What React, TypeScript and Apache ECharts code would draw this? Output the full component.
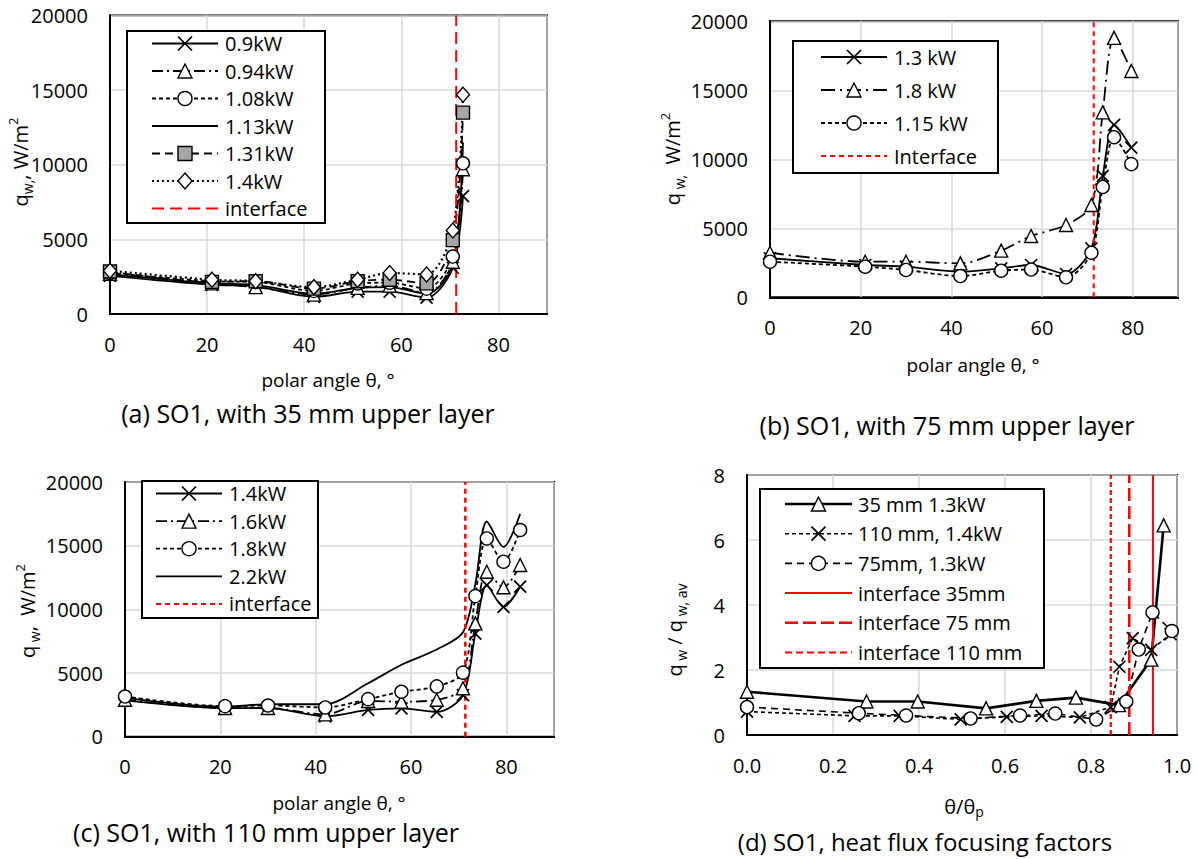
import { useEffect, useRef } from 'react';
import * as echarts from 'echarts';

const FONT = "'Open Sans', 'Noto Sans', 'DejaVu Sans', sans-serif";
const BLACK = '#000000';
const RED = '#ff0000';
const GRIDC = '#d9d9d9';

// ---------- Panel (a): SO1, 35 mm upper layer ----------
const thetaA = [0, 21, 30, 42, 51, 57.6, 65.2, 70.6, 72.7];
const qA_090 = [2550, 1950, 1850, 1150, 1500, 1500, 1100, 3100, 7900];
const qA_094 = [2700, 2050, 1800, 1300, 1750, 1900, 1400, 3500, 9700];
const qA_108 = [2750, 2200, 2150, 1550, 2050, 2100, 1700, 3850, 10100];
const qA_113 = [2650, 2050, 1950, 1350, 1750, 1800, 1350, 3300, 11500];
const qA_131 = [2850, 2150, 2200, 1700, 2200, 2300, 2050, 4950, 13500];
const qA_140 = [2900, 2300, 2200, 1800, 2300, 2750, 2650, 5600, 14700];
const interfaceA = 71.3;

// ---------- Panel (b): SO1, 75 mm upper layer ----------
const thetaB = [0, 21, 30, 42, 51, 57.6, 65.3, 70.9, 73.4, 75.9, 79.7];
const qB_130 = [2830, 2340, 2220, 1860, 2100, 2340, 1690, 3550, 8800, 12500, 10850];
const qB_180 = [3230, 2580, 2580, 2460, 3380, 4440, 5240, 6690, 13400, 18800, 16400];
const qB_115 = [2580, 2220, 1980, 1540, 1930, 2010, 1450, 3230, 8000, 11600, 9650];
const interfaceB = 71.4;

// ---------- Panel (c): SO1, 110 mm upper layer ----------
const thetaC = [0, 21, 30, 42, 51, 58, 65.4, 70.9, 73.5, 75.9, 79.4, 82.9];
const qC_140 = [2850, 2250, 2250, 1600, 2100, 2230, 1950, 3270, 8100, 11900, 10200, 11780];
const qC_160 = [2900, 2250, 2250, 1750, 2800, 2750, 2900, 3800, 8900, 12950, 11730, 13480];
const qC_180 = [3150, 2400, 2450, 2300, 2950, 3530, 3950, 5030, 11040, 15570, 13740, 16230];
const qC_220 = [3050, 2350, 2550, 2550, 4200, 5650, 6850, 8200, 12000, 16900, 14900, 17500];
const interfaceC = 71.4;

// ---------- Panel (d): heat flux focusing factors ----------
const ratioD_35 = [0, 0.278, 0.397, 0.556, 0.673, 0.765, 0.865, 0.94, 0.969];
const factorD_35 = [1.33, 1.03, 1.03, 0.82, 1.05, 1.15, 0.92, 2.32, 6.45];
const ratioD_110 = [0, 0.25, 0.355, 0.497, 0.604, 0.685, 0.774, 0.846, 0.866, 0.897, 0.94, 0.985];
const factorD_110 = [0.72, 0.59, 0.59, 0.48, 0.56, 0.59, 0.54, 0.86, 2.1, 2.98, 2.62, 3.1];
const ratioD_75 = [0, 0.26, 0.37, 0.52, 0.635, 0.717, 0.812, 0.882, 0.911, 0.943, 0.988];
const factorD_75 = [0.86, 0.67, 0.6, 0.51, 0.6, 0.66, 0.48, 1.03, 2.63, 3.77, 3.2];
const interfaceD_35 = 0.944;
const interfaceD_75 = 0.889;
const interfaceD_110 = 0.846;

// ---------- axes ----------
const qMax = 20000;
const qStep = 5000;
const thetaMax = 90;
const thetaStep = 20;
const fMax = 8;
const fStep = 2;
const ratioMax = 1;
const ratioStep = 0.2;

type Marker = 'cross' | 'triangle' | 'circle' | 'square' | 'diamond' | 'none';
interface LineSty {
  marker: Marker;
  dash: 'solid' | number[];
  width: number;
  color: string;
}

const stX: LineSty = { marker: 'cross', dash: 'solid', width: 1.8, color: BLACK };
const stTri: LineSty = { marker: 'triangle', dash: [11, 4, 2, 4], width: 1.8, color: BLACK };
const stCirc: LineSty = { marker: 'circle', dash: [4, 3], width: 1.8, color: BLACK };
const stPlain: LineSty = { marker: 'none', dash: 'solid', width: 1.8, color: BLACK };
const stSq: LineSty = { marker: 'square', dash: [8, 5], width: 1.8, color: BLACK };
const stDia: LineSty = { marker: 'diamond', dash: [2, 3], width: 2.2, color: BLACK };
const stIfA: LineSty = { marker: 'none', dash: [12, 6], width: 2, color: RED };
const stIfB: LineSty = { marker: 'none', dash: [5, 4], width: 2, color: RED };

const stD35: LineSty = { marker: 'triangle', dash: 'solid', width: 2.6, color: BLACK };
const stD110: LineSty = { marker: 'cross', dash: [4, 3], width: 1.6, color: BLACK };
const stD75: LineSty = { marker: 'circle', dash: [7, 5], width: 1.6, color: BLACK };
const stIf35: LineSty = { marker: 'none', dash: 'solid', width: 2, color: RED };
const stIf75: LineSty = { marker: 'none', dash: [13, 5], width: 2.5, color: RED };
const stIf110: LineSty = { marker: 'none', dash: [5, 3], width: 2.2, color: RED };

const SYMBOLS: Record<Marker, string> = {
  cross: 'path://M0,0L10,10M10,0L0,10',
  triangle: 'triangle',
  circle: 'circle',
  square: 'rect',
  diamond: 'diamond',
  none: 'none',
};

function mkSeries(id: string, gi: number, xs: number[], ys: number[], st: LineSty, smooth: number | boolean) {
  const fill = st.marker === 'square' ? '#a6a6a6' : st.marker === 'cross' ? 'rgba(0,0,0,0)' : '#ffffff';
  return {
    type: 'line',
    id,
    name: id,
    xAxisIndex: gi,
    yAxisIndex: gi,
    data: xs.map((x, i) => [x, ys[i]]),
    smooth,
    symbol: SYMBOLS[st.marker],
    symbolSize: st.marker === 'cross' ? 12 : st.marker === 'diamond' ? [13, 15] : 13,
    showSymbol: st.marker !== 'none',
    itemStyle: { color: fill, borderColor: BLACK, borderWidth: st.marker === 'cross' ? 1.7 : 1.4 },
    lineStyle: { color: st.color, width: st.width, type: st.dash },
    emphasis: { disabled: true },
    silent: true,
  };
}

function vSeries(id: string, gi: number, x: number, ymax: number, st: LineSty) {
  return mkSeries(id, gi, [x, x], [0, ymax], st, false);
}

// ---------- legend drawing ----------
function markerEls(mk: Marker, cx: number, cy: number, size: number): any[] {
  const h = size / 2;
  const st = { stroke: BLACK, lineWidth: 1.4, fill: '#ffffff' };
  switch (mk) {
    case 'cross':
      return [
        { type: 'line', z: 103, shape: { x1: cx - h, y1: cy - h, x2: cx + h, y2: cy + h }, style: { stroke: BLACK, lineWidth: 1.7 } },
        { type: 'line', z: 103, shape: { x1: cx - h, y1: cy + h, x2: cx + h, y2: cy - h }, style: { stroke: BLACK, lineWidth: 1.7 } },
      ];
    case 'triangle':
      return [{ type: 'polygon', z: 103, shape: { points: [[cx, cy - h], [cx + h, cy + h], [cx - h, cy + h]] }, style: st }];
    case 'circle':
      return [{ type: 'circle', z: 103, shape: { cx, cy, r: h }, style: st }];
    case 'square':
      return [{ type: 'rect', z: 103, shape: { x: cx - h, y: cy - h, width: size, height: size }, style: { ...st, fill: '#a6a6a6' } }];
    case 'diamond':
      return [{ type: 'polygon', z: 103, shape: { points: [[cx, cy - h - 1], [cx + h, cy], [cx, cy + h + 1], [cx - h, cy]] }, style: st }];
    default:
      return [];
  }
}

interface LegendSpec {
  box: [number, number, number, number];
  y0: number;
  step: number;
  lineX: [number, number];
  textX: number;
  items: { label: string; st: LineSty }[];
}

function legendEls(spec: LegendSpec): any[] {
  const els: any[] = [];
  const [bx, by, bw, bh] = spec.box;
  els.push({ type: 'rect', z: 100, shape: { x: bx, y: by, width: bw, height: bh }, style: { fill: '#ffffff', stroke: BLACK, lineWidth: 2 } });
  spec.items.forEach((it, i) => {
    const y = spec.y0 + i * spec.step;
    els.push({
      type: 'line',
      z: 101,
      shape: { x1: spec.lineX[0], y1: y, x2: spec.lineX[1], y2: y },
      style: { stroke: it.st.color, lineWidth: it.st.width, lineDash: it.st.dash === 'solid' ? null : it.st.dash },
    });
    els.push(...markerEls(it.st.marker, (spec.lineX[0] + spec.lineX[1]) / 2, y, 14));
    els.push({
      type: 'text',
      z: 104,
      x: spec.textX,
      y,
      style: { text: it.label, fontSize: 20, lineHeight: 22, fontFamily: FONT, fill: BLACK, align: 'left', verticalAlign: 'middle' },
    });
  });
  return els;
}

const legendA: LegendSpec = {
  box: [127, 31, 198, 192], y0: 43.5, step: 27.5, lineX: [152, 218], textX: 225,
  items: [
    { label: '0.9kW', st: stX }, { label: '0.94kW', st: stTri }, { label: '1.08kW', st: stCirc },
    { label: '1.13kW', st: stPlain }, { label: '1.31kW', st: stSq }, { label: '1.4kW', st: stDia },
    { label: 'interface', st: stIfA },
  ],
};
const legendB: LegendSpec = {
  box: [793, 41, 205, 132], y0: 57, step: 33, lineX: [821, 887], textX: 894,
  items: [
    { label: '1.3 kW', st: stX }, { label: '1.8 kW', st: { ...stTri, dash: [14, 5, 2, 5] } },
    { label: '1.15 kW', st: stCirc }, { label: 'Interface', st: stIfB },
  ],
};
const legendC: LegendSpec = {
  box: [142, 481, 176, 137], y0: 493.5, step: 27.6, lineX: [156, 222], textX: 229,
  items: [
    { label: '1.4kW', st: stX }, { label: '1.6kW', st: stTri }, { label: '1.8kW', st: stCirc },
    { label: '2.2kW', st: stPlain }, { label: 'interface', st: stIfB },
  ],
};
const legendD: LegendSpec = {
  box: [760, 489, 284, 179], y0: 504, step: 29.7, lineX: [785, 852], textX: 858,
  items: [
    { label: '35 mm 1.3kW', st: stD35 }, { label: '110 mm, 1.4kW', st: stD110 },
    { label: '75mm, 1.3kW', st: stD75 }, { label: 'interface 35mm', st: stIf35 },
    { label: 'interface 75 mm', st: stIf75 }, { label: 'interface 110 mm', st: { ...stIf110, dash: [7, 4] } },
  ],
};

// ---------- titles ----------
function rich(lh: number) {
  return {
    n: { fontSize: 20, fontFamily: FONT, fill: BLACK, color: BLACK, lineHeight: lh },
    s: { fontSize: 14, fontFamily: FONT, fill: BLACK, color: BLACK, verticalAlign: 'bottom', lineHeight: 15 },
    p: { fontSize: 13, fontFamily: FONT, fill: BLACK, color: BLACK, verticalAlign: 'top', lineHeight: 14 },
  };
}

function textEl(text: string, x: number, y: number, size: number, rotate = false, lh = 28): any {
  return {
    type: 'text',
    z: 110,
    x,
    y,
    rotation: rotate ? Math.PI / 2 : 0,
    style: {
      text, rich: rich(lh), fontSize: size, lineHeight: Math.round(size * 1.05), fontFamily: FONT,
      fill: BLACK, align: 'center', verticalAlign: 'middle',
    },
  };
}

const titleEls = [
  textEl('{n|q}{s|w,}{n|, W/m}{p|2}', 20, 162, 20, true),
  textEl('{n|q}{s| w,}{n|  W/m}{p|2}', 672, 159, 20, true),
  textEl('{n|q}{s| w}{n|,  W/m}{p|2}', 27, 611, 20, true),
  textEl('{n|q}{s| w}{n| / q}{s| w, av}', 674, 630, 20, true),
  textEl('polar angle θ, °', 328, 380, 19),
  textEl('polar angle θ, °', 973, 365, 19),
  textEl('polar angle θ, °', 339, 803, 19),
  textEl('{n|θ/θ}{s|p}', 964, 806, 19, false, 24),
  textEl('(a) SO1, with 35 mm upper layer', 308, 413, 25),
  textEl('(b) SO1, with 75 mm upper layer', 947, 425, 25),
  textEl('(c) SO1, with 110 mm upper layer', 266, 832, 25),
  textEl('(d) SO1, heat flux focusing factors', 925, 841, 24),
];

// ---------- option ----------
const gridBoxes = [
  { left: 110, top: 15.6, width: 437, height: 298.4 },
  { left: 770, top: 21.3, width: 408, height: 276 },
  { left: 125, top: 482, width: 429, height: 254.7 },
  { left: 747, top: 475, width: 430, height: 260 },
];

const axisCommon = {
  type: 'value',
  axisLine: { show: true, onZero: false, lineStyle: { color: BLACK, width: 2 } },
  axisTick: { show: false },
  splitLine: { show: true, lineStyle: { color: GRIDC, width: 1.5 } },
};

function thetaAxis(gi: number) {
  return {
    ...axisCommon, gridIndex: gi, min: 0, max: thetaMax, interval: thetaStep,
    axisLabel: { color: BLACK, fontSize: 20, fontFamily: FONT, margin: 20, formatter: (v: number) => (v > 80 ? '' : String(v)) },
  };
}
function qAxis(gi: number) {
  return {
    ...axisCommon, gridIndex: gi, min: 0, max: qMax, interval: qStep,
    axisLabel: { color: BLACK, fontSize: 20, fontFamily: FONT, margin: 22, formatter: (v: number) => String(v) },
  };
}

const option: any = {
  animation: false,
  backgroundColor: '#ffffff',
  grid: gridBoxes.map((g) => ({ ...g, show: true, borderColor: BLACK, borderWidth: 2, backgroundColor: 'transparent', containLabel: false, outerBoundsMode: 'none' })),
  xAxis: [
    thetaAxis(0), thetaAxis(1), thetaAxis(2),
    {
      ...axisCommon, gridIndex: 3, min: 0, max: ratioMax, interval: ratioStep,
      axisLabel: { color: BLACK, fontSize: 20, fontFamily: FONT, margin: 20, formatter: (v: number) => v.toFixed(1) },
    },
  ],
  yAxis: [
    qAxis(0), qAxis(1), qAxis(2),
    {
      ...axisCommon, gridIndex: 3, min: 0, max: fMax, interval: fStep,
      axisLabel: { color: BLACK, fontSize: 20, fontFamily: FONT, margin: 22, formatter: (v: number) => String(v) },
    },
  ],
  series: [
    mkSeries('a 0.9kW', 0, thetaA, qA_090, stX, 0.3),
    mkSeries('a 0.94kW', 0, thetaA, qA_094, stTri, 0.3),
    mkSeries('a 1.08kW', 0, thetaA, qA_108, stCirc, 0.3),
    mkSeries('a 1.13kW', 0, thetaA, qA_113, stPlain, 0.3),
    mkSeries('a 1.31kW', 0, thetaA, qA_131, stSq, 0.3),
    mkSeries('a 1.4kW', 0, thetaA, qA_140, stDia, 0.3),
    vSeries('a interface', 0, interfaceA, qMax, stIfA),

    mkSeries('b 1.3 kW', 1, thetaB, qB_130, stX, 0.3),
    mkSeries('b 1.8 kW', 1, thetaB, qB_180, { ...stTri, dash: [14, 5, 2, 5] }, 0.3),
    mkSeries('b 1.15 kW', 1, thetaB, qB_115, stCirc, 0.3),
    vSeries('b Interface', 1, interfaceB, qMax, stIfB),

    mkSeries('c 1.4kW', 2, thetaC, qC_140, stX, 0.3),
    mkSeries('c 1.6kW', 2, thetaC, qC_160, stTri, 0.3),
    mkSeries('c 1.8kW', 2, thetaC, qC_180, stCirc, 0.3),
    mkSeries('c 2.2kW', 2, thetaC, qC_220, stPlain, 0.3),
    vSeries('c interface', 2, interfaceC, qMax, { ...stIfB, width: 2.5 }),

    mkSeries('d 35 mm 1.3kW', 3, ratioD_35, factorD_35, stD35, false),
    mkSeries('d 110 mm, 1.4kW', 3, ratioD_110, factorD_110, stD110, false),
    mkSeries('d 75mm, 1.3kW', 3, ratioD_75, factorD_75, stD75, false),
    vSeries('d interface 35mm', 3, interfaceD_35, fMax, stIf35),
    vSeries('d interface 75 mm', 3, interfaceD_75, fMax, stIf75),
    vSeries('d interface 110 mm', 3, interfaceD_110, fMax, stIf110),
  ],
  graphic: {
    elements: [
      ...legendEls(legendA),
      ...legendEls(legendB),
      ...legendEls(legendC),
      ...legendEls(legendD),
      ...titleEls,
    ],
  },
};

export default function App() {
  const ref = useRef<HTMLDivElement>(null);
  useEffect(() => {
    if (!ref.current) return;
    const chart = echarts.init(ref.current, null, { renderer: 'svg' });
    chart.setOption(option);
    return () => chart.dispose();
  }, []);
  return (
    <div
      ref={ref}
      style={{ position: 'absolute', left: 0, top: 0, width: 1198, height: 859, background: '#ffffff' }}
    />
  );
}
